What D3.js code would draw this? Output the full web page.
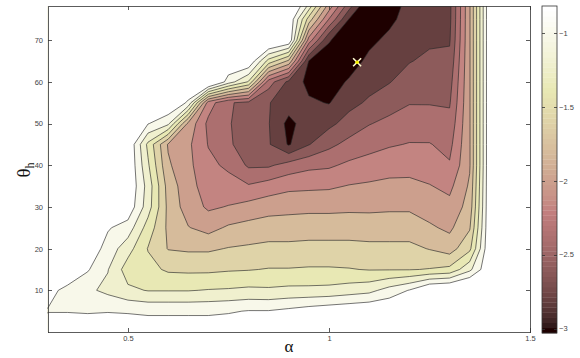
<!DOCTYPE html>
<html>
<head>
<meta charset="utf-8">
<script src="https://cdn.jsdelivr.net/npm/d3@7"></script>
<style>
  body { margin: 0; background: #fff; }
  svg { display: block; }
  .axis text { font-family: "Liberation Sans", Arial, sans-serif; font-size: 7.5px; fill: #444; }
  .axis path, .axis line { stroke: #333; stroke-width: 0.8; shape-rendering: crispEdges; }
  .label { font-family: "Liberation Serif", "Times New Roman", serif; fill: #111; }
</style>
</head>
<body>
<svg id="chart" width="580" height="358"></svg>
<script>
// sample positions of the surface
const alphas = [0.30, 0.35, 0.40, 0.45, 0.50, 0.55, 0.60, 0.65, 0.70, 0.75, 0.80, 0.85, 0.90,
                0.95, 1.00, 1.05, 1.10, 1.15, 1.20, 1.25, 1.30, 1.35, 1.40, 1.45, 1.50];
const thetas = [0, 5, 10, 15, 20, 25, 30, 35, 40, 45, 50, 55, 60, 65, 70, 75, 80];

// contour levels and colour limits
const levels = [-3.0, -2.8, -2.6, -2.4, -2.2, -2.0, -1.8, -1.6, -1.4, -1.2, -1.0];
const colorLimits = [-3.03, -0.82];

const xTicks = [0.5, 1, 1.5];
const yTicks = [10, 20, 30, 40, 50, 60, 70];
const barTicks = [-3, -2.5, -2, -1.5, -1];

// best point
const bestAlpha = [1.07];
const bestTheta = [64.7];

// z values, one row per theta (bottom first), one value per alpha
const z = [
  [-0.85,-0.85,-0.85,-0.85,-0.85,-0.85,-0.85,-0.85,-0.85,-0.85,-0.85,-0.85,-0.85,-0.85,-0.85,-0.85,-0.85,-0.85,-0.85,-0.85,-0.85,-0.85,-0.85,-0.85,-0.85],
  [-1.01,-1.01,-1.02,-1.01,-1.02,-1.04,-1.04,-1.04,-1.04,-1.02,-0.99,-0.99,-0.95,-0.90,-0.86,-0.83,-0.80,-0.80,-0.80,-0.80,-0.80,-0.80,-0.80,-0.80,-0.80],
  [-0.93,-1.06,-1.16,-1.25,-1.36,-1.41,-1.41,-1.41,-1.39,-1.38,-1.36,-1.37,-1.35,-1.35,-1.34,-1.30,-1.26,-1.12,-0.99,-0.75,-0.70,-0.60,-0.80,-0.80,-0.80],
  [-0.85,-0.82,-0.98,-1.19,-1.50,-1.54,-1.63,-1.64,-1.64,-1.62,-1.61,-1.59,-1.59,-1.58,-1.58,-1.59,-1.61,-1.61,-1.61,-1.59,-1.55,-1.25,-0.80,-0.80,-0.80],
  [-0.85,-0.80,-0.85,-1.08,-1.32,-1.61,-1.81,-1.83,-1.83,-1.79,-1.77,-1.75,-1.75,-1.74,-1.74,-1.74,-1.75,-1.75,-1.75,-1.81,-1.89,-1.65,-0.80,-0.80,-0.80],
  [-0.85,-0.80,-0.80,-0.98,-1.09,-1.49,-1.84,-1.99,-2.07,-1.97,-1.93,-1.90,-1.90,-1.89,-1.89,-1.89,-1.90,-1.90,-1.90,-1.97,-2.04,-1.82,-0.80,-0.80,-0.80],
  [-0.85,-0.80,-0.80,-0.80,-0.85,-1.31,-1.85,-2.10,-2.23,-2.19,-2.13,-2.08,-2.06,-2.05,-2.05,-2.04,-2.04,-2.03,-2.03,-2.09,-2.14,-1.92,-0.80,-0.80,-0.80],
  [-0.85,-0.80,-0.80,-0.80,-0.80,-1.28,-1.88,-2.13,-2.29,-2.32,-2.38,-2.31,-2.25,-2.24,-2.23,-2.19,-2.17,-2.15,-2.15,-2.19,-2.25,-1.97,-0.80,-0.80,-0.80],
  [-0.85,-0.80,-0.80,-0.80,-0.80,-1.37,-1.97,-2.15,-2.35,-2.44,-2.63,-2.63,-2.52,-2.45,-2.43,-2.36,-2.32,-2.28,-2.27,-2.30,-2.38,-2.02,-0.80,-0.80,-0.80],
  [-0.85,-0.80,-0.80,-0.80,-0.80,-1.45,-2.02,-2.16,-2.41,-2.57,-2.70,-2.78,-3.02,-2.81,-2.65,-2.54,-2.47,-2.42,-2.39,-2.39,-2.46,-2.02,-0.80,-0.80,-0.80],
  [-0.85,-0.80,-0.80,-0.80,-0.80,-0.99,-1.15,-2.05,-2.45,-2.58,-2.72,-2.79,-3.06,-2.89,-2.85,-2.72,-2.61,-2.55,-2.50,-2.51,-2.54,-2.02,-0.80,-0.80,-0.80],
  [-0.85,-0.80,-0.80,-0.80,-0.80,-0.80,-0.80,-1.03,-2.30,-2.58,-2.65,-2.79,-2.90,-2.97,-3.01,-2.86,-2.77,-2.68,-2.61,-2.61,-2.62,-2.02,-0.80,-0.80,-0.80],
  [-0.85,-0.80,-0.80,-0.80,-0.80,-0.80,-0.80,-0.80,-0.60,-1.10,-1.42,-2.50,-2.85,-3.06,-3.08,-2.98,-2.87,-2.81,-2.71,-2.69,-2.68,-2.02,-0.80,-0.80,-0.80],
  [-0.85,-0.80,-0.80,-0.80,-0.80,-0.80,-0.80,-0.80,-0.80,-0.80,-0.80,-1.48,-1.84,-3.01,-3.06,-3.08,-2.96,-2.89,-2.81,-2.76,-2.75,-2.02,-0.80,-0.80,-0.80],
  [-0.85,-0.80,-0.80,-0.80,-0.80,-0.80,-0.80,-0.80,-0.80,-0.80,-0.80,-0.65,-0.80,-2.29,-2.99,-3.08,-3.04,-2.96,-2.88,-2.83,-2.82,-2.02,-0.80,-0.80,-0.80],
  [-0.85,-0.80,-0.80,-0.80,-0.80,-0.80,-0.80,-0.80,-0.80,-0.80,-0.80,-0.80,-0.80,-1.69,-2.41,-3.01,-3.08,-3.04,-2.93,-2.87,-2.85,-2.02,-0.80,-0.80,-0.80],
  [-0.85,-0.80,-0.80,-0.80,-0.80,-0.80,-0.80,-0.80,-0.80,-0.80,-0.80,-0.80,-0.80,-1.05,-1.90,-2.55,-3.08,-3.08,-2.97,-2.90,-2.86,-2.02,-0.80,-0.80,-0.80]
];

const svg = d3.select('#chart');
const plotL = 47.5, plotR = 530, plotT = 6, plotB = 332;

const x = d3.scaleLinear().domain([0.3, 1.5]).range([plotL, plotR]);
const y = d3.scaleLinear().domain([0, 78.2]).range([plotB, plotT]);

// matlab "pink" colormap, 64 entries
function pink(i) {
  const g = i / 63;
  const hr = Math.min(1, (i + 1) / 24);
  const hg = Math.max(0, Math.min(1, (i + 1 - 24) / 24));
  const hb = Math.max(0, (i + 1 - 48) / 16);
  const f = h => Math.round(255 * Math.sqrt((2 * g + h) / 3));
  return d3.rgb(f(hr), f(hg), f(hb)).toString();
}
function color(v) {
  let i = Math.floor((v - colorLimits[0]) / (colorLimits[1] - colorLimits[0]) * 64);
  return pink(Math.max(0, Math.min(63, i)));
}

// contours on the grid; d3 puts sample k at k + 0.5
const nx = alphas.length, ny = thetas.length;
const gx = d3.scaleLinear().domain([0.5, nx - 0.5]).range([alphas[0], alphas[nx - 1]]);
const gy = d3.scaleLinear().domain([0.5, ny - 0.5]).range([thetas[0], thetas[ny - 1]]);
const bands = d3.contours().size([nx, ny]).thresholds(levels)(z.flat());

const path = d3.geoPath(d3.geoTransform({
  point(px, py) { this.stream.point(x(gx(px)), y(gy(py))); }
}));

svg.append('clipPath').attr('id', 'clip')
  .append('rect').attr('x', plotL).attr('y', plotT).attr('width', plotR - plotL).attr('height', plotB - plotT);

const plot = svg.append('g').attr('clip-path', 'url(#clip)');
plot.append('rect')
  .attr('x', plotL).attr('y', plotT).attr('width', plotR - plotL).attr('height', plotB - plotT)
  .attr('fill', color(levels[0]));

plot.selectAll('path.band').data(bands).join('path')
  .attr('class', 'band')
  .attr('d', path)
  .attr('fill', (d, i) => i < levels.length - 1 ? color(levels[i + 1]) : color(colorLimits[1]));

plot.selectAll('path.iso').data(bands).join('path')
  .attr('class', 'iso')
  .attr('d', path)
  .attr('fill', 'none')
  .attr('stroke', '#2a2a2a')
  .attr('stroke-width', 0.65);

// marker
const mk = plot.append('g')
  .attr('transform', `translate(${x(bestAlpha[0])},${y(bestTheta[0])})`);
mk.append('path').attr('d', 'M-4,-4L4,4M-4,4L4,-4')
  .attr('stroke', '#fffbd0').attr('stroke-width', 1.6);
mk.append('circle').attr('r', 1.8).attr('fill', '#f5f000');

// axes, matlab style box with inward ticks
svg.append('g').attr('class', 'axis')
  .attr('transform', `translate(0,${plotB})`)
  .call(d3.axisBottom(x).tickValues(xTicks).tickFormat(d3.format(''))
    .tickSizeInner(-4).tickSizeOuter(0).tickPadding(3.5));
svg.append('g').attr('class', 'axis')
  .attr('transform', `translate(0,${plotT})`)
  .call(d3.axisTop(x).tickValues(xTicks).tickFormat('').tickSizeInner(-4).tickSizeOuter(0));
svg.append('g').attr('class', 'axis')
  .attr('transform', `translate(${plotL},0)`)
  .call(d3.axisLeft(y).tickValues(yTicks).tickSizeInner(-4).tickSizeOuter(0).tickPadding(4.5));
svg.append('g').attr('class', 'axis')
  .attr('transform', `translate(${plotR},0)`)
  .call(d3.axisRight(y).tickValues(yTicks).tickFormat('').tickSizeInner(-4).tickSizeOuter(0));

// colorbar
const cbL = 542, cbR = 557;
const cy = d3.scaleLinear().domain(colorLimits).range([333, 6]);
const step = (colorLimits[1] - colorLimits[0]) / 64;
svg.append('g').selectAll('rect').data(d3.range(64)).join('rect')
  .attr('x', cbL).attr('width', cbR - cbL)
  .attr('y', i => cy(colorLimits[0] + (i + 1) * step))
  .attr('height', i => cy(colorLimits[0] + i * step) - cy(colorLimits[0] + (i + 1) * step) + 0.3)
  .attr('fill', i => pink(i));
svg.append('rect').attr('x', cbL).attr('y', 6).attr('width', cbR - cbL).attr('height', 327)
  .attr('fill', 'none').attr('stroke', '#333').attr('stroke-width', 0.8);
svg.append('g').attr('class', 'axis')
  .attr('transform', `translate(${cbR},0)`)
  .call(d3.axisRight(cy).tickValues(barTicks).tickFormat(d3.format('')).tickSizeInner(-3).tickSizeOuter(0).tickPadding(2))
  .call(g => g.select('.domain').remove());
svg.append('g').attr('class', 'axis')
  .attr('transform', `translate(${cbL},0)`)
  .call(d3.axisLeft(cy).tickValues(barTicks).tickFormat('').tickSizeInner(-3).tickSizeOuter(0))
  .call(g => g.select('.domain').remove());

// axis titles
svg.append('text').attr('class', 'label')
  .attr('x', 289).attr('y', 352).attr('text-anchor', 'middle')
  .style('font-size', '17px').text('α');
const yl = svg.append('text').attr('class', 'label')
  .attr('transform', 'translate(30,170) rotate(-90)')
  .attr('text-anchor', 'middle').style('font-size', '19px');
yl.append('tspan').text('θ');
yl.append('tspan').attr('dy', 4).style('font-size', '12px').text('h');
</script>
</body>
</html>
